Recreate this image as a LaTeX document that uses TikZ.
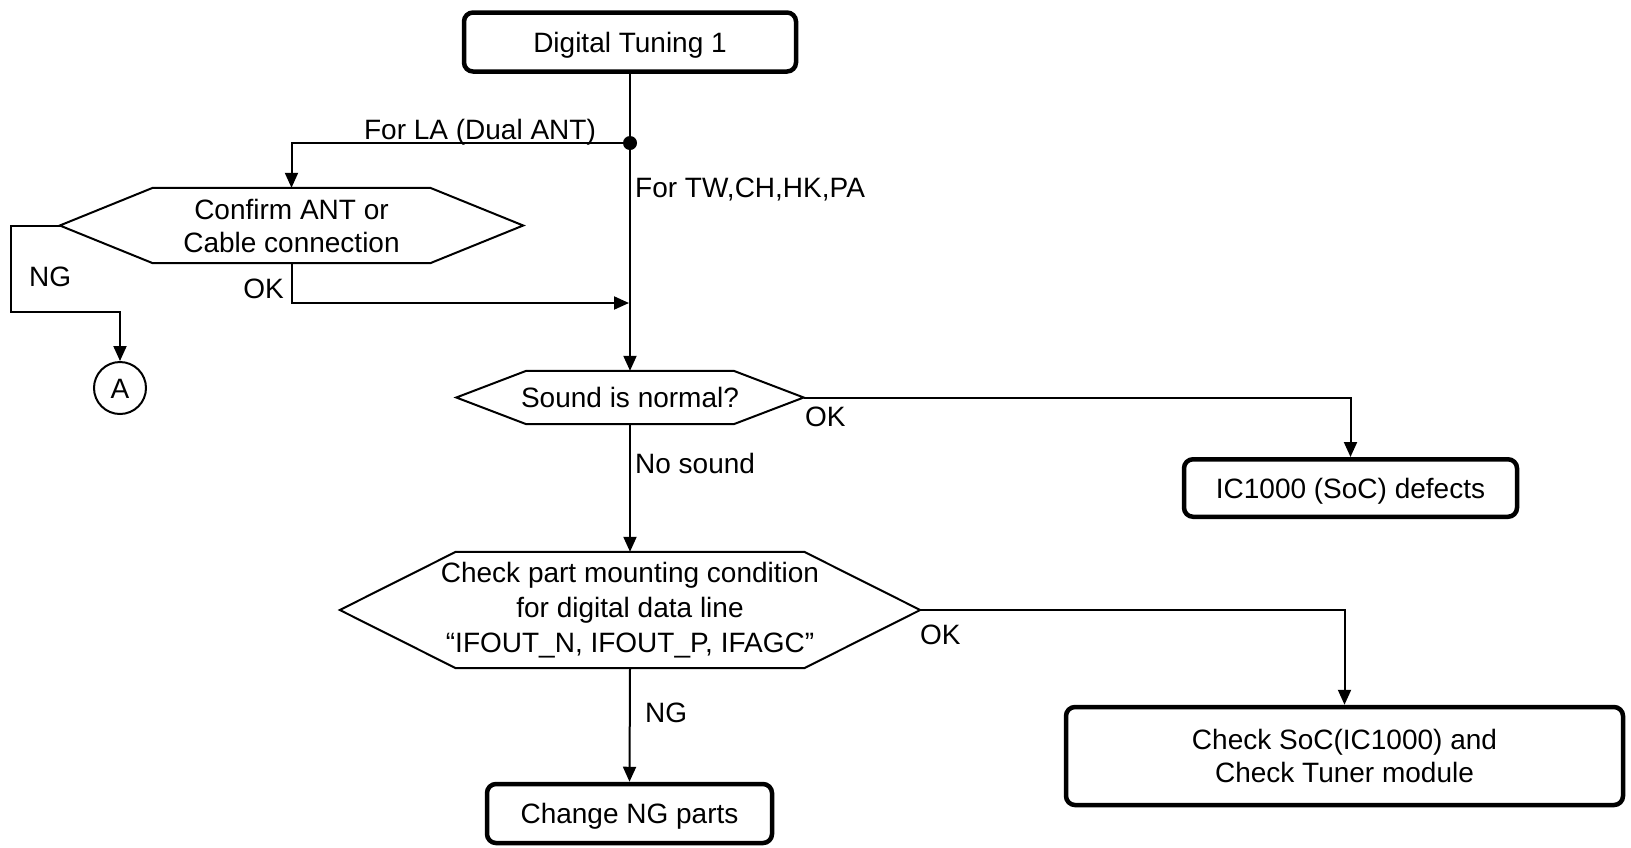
\documentclass[tikz,border=0pt]{standalone}
\usepackage{fontspec}
\setmainfont{Liberation Sans}
\usetikzlibrary{arrows.meta,calc}
\newcommand\hexdraw[2]{\draw[hexline] (#1.west) -- ([xshift=#2]#1.north west) -- ([xshift=-#2]#1.north east) -- (#1.east) -- ([xshift=-#2]#1.south east) -- ([xshift=#2]#1.south west) -- cycle;}
\begin{document}
\begin{tikzpicture}[x=1pt,y=-1pt,
  every node/.style={font=\fontsize{28}{33}\selectfont},
  ctext/.style={text height=25pt, text depth=5pt},
  box/.style={draw, line width=4.5pt, rounded corners=9pt, align=center, inner sep=0},
  hexn/.style={align=center, inner sep=0},
  hexline/.style={line width=2pt, line join=miter},
  conn/.style={line width=2pt, -{Triangle[length=15pt,width=13pt]}},
  lbl/.style={inner sep=0, ctext}]
\useasboundingbox (0,0) rectangle (1631,847);

% nodes
\node[box, ctext, minimum width=332, minimum height=59] (b1) at (630,42) {Digital Tuning 1};
\coordinate (J) at (630,143);
\node[hexn, minimum width=463, minimum height=75] (C) at (291.5,225.5) {Confirm ANT or\\Cable connection};
\hexdraw{C}{93}
\node[draw, circle, ctext, line width=2pt, minimum size=52, inner sep=0] (A) at (120,388) {A};
\node[hexn, ctext, minimum width=347, minimum height=53] (S) at (630,397.5) {Sound is normal?};
\hexdraw{S}{70}
\node[box, ctext, minimum width=333, minimum height=57.5] (IC) at (1350.5,488) {IC1000 (SoC) defects};
\node[hexn, minimum width=580, minimum height=116, font=\fontsize{28}{35}\selectfont] (K) at (630,610) {Check part mounting condition\\for digital data line\\“IFOUT\_N, IFOUT\_P, IFAGC”};
\hexdraw{K}{116}
\node[box, minimum width=557, minimum height=98] (SoC) at (1344.5,756) {Check SoC(IC1000) and\\Check Tuner module};
\node[box, ctext, minimum width=285, minimum height=59] (Ch) at (629.5,813.5) {Change NG parts};

\coordinate (ngL) at (11,312);
\coordinate (okC) at (629,303);

% connectors
\draw[conn] (b1.south) -- (S.north);
\fill (J) circle (7);
\draw[conn] (J) -| (C.north);
\draw[conn] (C.west) -| (ngL) -| (A.north);
\draw[conn] (C.south) |- (okC);
\draw[conn] (S.east) -| (IC.north);
\draw[conn] (S.south) -- (K.north);
\draw[conn] (K.east) -| (SoC.north);
\draw[conn] (K.south) -- (Ch.north);

% labels
\node[lbl] (lLA) at (480,129) {For LA (Dual ANT)};
\node[lbl, anchor=west] (lTW) at (635,187) {For TW,CH,HK,PA};
\node[lbl, anchor=west] (lNG1) at (29,276) {NG};
\node[lbl, anchor=east] (lOK1) at (284,288) {OK};
\node[lbl, anchor=west] (lOK2) at (805,416) {OK};
\node[lbl, anchor=west] (lNS) at (635,463) {No sound};
\node[lbl, anchor=west] (lOK3) at (920,634) {OK};
\node[lbl, anchor=west] (lNG2) at (645,712) {NG};
\end{tikzpicture}
\end{document}
